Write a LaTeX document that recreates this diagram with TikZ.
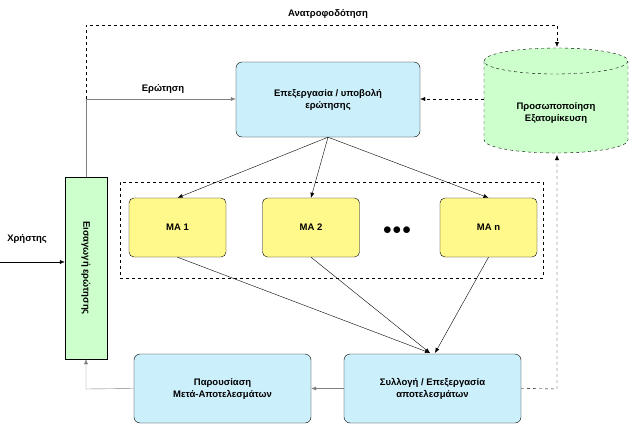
\documentclass[tikz,border=0pt]{standalone}
\usepackage{fontspec}
\setmainfont{Liberation Sans}
\usetikzlibrary{arrows.meta}
\begin{document}
\begin{tikzpicture}[x=1pt,y=-1pt,
  box/.style={draw,rounded corners=6pt,fill=cyan!20,align=center,font=\bfseries\fontsize{9.5}{12}\selectfont,inner sep=2pt},
  ma/.style={draw,rounded corners=5pt,fill=yellow!45,minimum width=97pt,minimum height=59pt,font=\bfseries\fontsize{9.5}{12}\selectfont},
  lbl/.style={font=\bfseries\fontsize{9.5}{12}\selectfont},
  arr/.style={-{Latex[length=5pt,width=4pt]}}]
\useasboundingbox (0,0) rectangle (638,434);
\fill[white] (0,0) rectangle (638,434);
% green bar
\node[draw,fill=green!20,minimum width=42pt,minimum height=182pt,inner sep=0pt] (bar) at (86,268) {};
\node[rotate=-90,lbl] at (bar.center) {Εισαγωγή ερώτησης};
% top box
\node[box,minimum width=184pt,minimum height=75pt] (top) at (328,99.5) {Επεξεργασία / υποβολή\\ερώτησης};
% cylinder
\fill[green!20] (484,61) rectangle (628,140);
\fill[green!20] (556,61) ellipse[x radius=72,y radius=13];
\fill[green!20] (556,140) ellipse[x radius=72,y radius=13];
\draw[dashed] (556,61) ellipse[x radius=72,y radius=13];
\draw[dashed] (484,61) -- (484,140) arc[start angle=180,end angle=0,x radius=72,y radius=13] -- (628,61);
\node[lbl,align=center] (cyl) at (556,113) {Προσωποποίηση\\Εξατομίκευση};
\coordinate (cyltop) at (557,47);
\coordinate (cylbot) at (557,155);
% dashed group
\node[draw,dashed,minimum width=423pt,minimum height=96pt] (grp) at (331.5,230) {};
\node[ma] (m1) at (177.5,227.5) {ΜΑ 1};
\node[ma] (m2) at (311,227.5) {ΜΑ 2};
\node[ma] (mn) at (488.5,227.5) {ΜΑ n};
\node[font=\fontsize{16}{16}\selectfont] (dots) at (397,231) {$\bullet\!\bullet\!\bullet$};
% bottom boxes
\node[box,minimum width=177pt,minimum height=69pt] (pres) at (222.5,388.5) {Παρουσίαση\\Μετά-Αποτελεσμάτων};
\node[box,minimum width=177pt,minimum height=69pt] (coll) at (432.5,388.5) {Συλλογή / Επεξεργασία\\αποτελεσμάτων};
% connectors
\coordinate (uin) at (0,262);
\draw[arr] (uin) -- (bar.west |- uin);
\node[lbl] at (27,239) {Χρήστης};
\draw[gray,arr] (bar.north) -- (86,99) -- (top.west |- 0,99);
\node[lbl] at (163,89) {Ερώτηση};
\draw[dashed,arr] (86,99) -- (86,25) -- (557,25) -- (cyltop);
\node[lbl] at (328,14) {Ανατροφοδότηση};
\draw[dashed,arr] (484,99) -- (top.east |- 0,99);
\draw[arr] (top.south) -- (m1.north);
\draw[arr] (top.south) -- (m2.north);
\draw[arr] (top.south) -- (mn.north);
\coordinate (cin) at (430,353);
\draw[arr] (m1.south) -- (cin);
\draw[arr] (m2.south) -- (cin);
\draw[arr] (mn.south) -- (435,353);
\draw[gray,arr] (coll.west) -- (pres.east);
\draw[gray,arr] (pres.west) -- (86,389) -- (bar.south);
\draw[dashed,arr] (coll.east) -- (557,389) -- (cylbot);
\end{tikzpicture}
\end{document}
